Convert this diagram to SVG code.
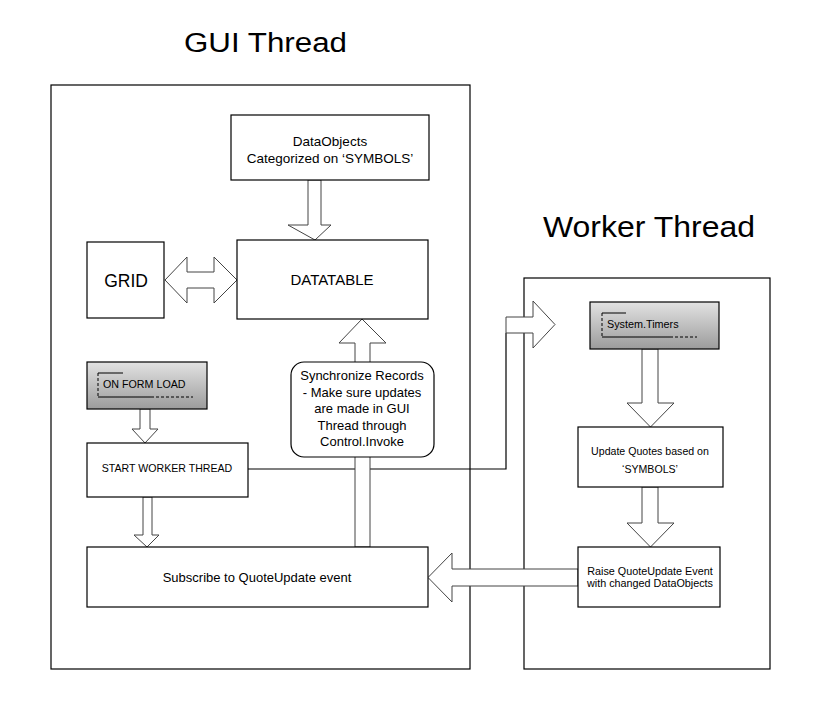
<svg xmlns="http://www.w3.org/2000/svg" width="819" height="724" viewBox="0 0 819 724">
<style>
text{font-family:"Liberation Sans",Arial,sans-serif;fill:#000}
.frame{fill:none;stroke:#000;stroke-width:1.2}
.box{fill:#fff;stroke:#000;stroke-width:1.2}
.gbox{fill:url(#g);stroke:#000;stroke-width:1.2}
.arr{fill:#fff;stroke:#444;stroke-width:1}
.ln{fill:none;stroke:#000;stroke-width:1.2}
.deco{fill:none;stroke:#000;stroke-width:1}
.dash{fill:none;stroke:#000;stroke-width:1;stroke-dasharray:3,2}
.t{text-anchor:middle}
</style>
<defs>
<linearGradient id="g" x1="0" y1="0" x2="0" y2="1">
<stop offset="0" stop-color="#e2e2e2"/>
<stop offset="1" stop-color="#9c9c9c"/>
</linearGradient>
</defs>
<rect width="819" height="724" fill="#fff"/>
<g id="titles">
<text x="184" y="52" font-size="27" textLength="163" lengthAdjust="spacingAndGlyphs">GUI Thread</text>
<text x="543" y="237" font-size="29" textLength="212" lengthAdjust="spacingAndGlyphs">Worker Thread</text>
</g>
<g id="gui-frame"><rect class="frame" x="51" y="85" width="419" height="584"/></g>
<g id="worker-frame"><rect class="frame" x="524" y="278" width="246" height="391"/></g>
<g id="connectors">
<polyline class="ln" points="248,469 506,469 506,333"/>
<polygon class="arr" points="315,240 288,225 308,225 308,180 321,180 321,225 331,225"/>
<polygon class="arr" points="165,280 187,257 187,272 214,272 214,257 237,280 214,303 214,288 187,288 187,303"/>
<polygon class="arr" points="362,319 386,343 370,343 370,547 355,547 355,343 339,343"/>
<polygon class="arr" points="555,324.5 533,301 533,317 506,317 506,333 533,333 533,348"/>
<polygon class="arr" points="145,443 132,429 140,429 140,409 150,409 150,429 158,429"/>
<polygon class="arr" points="147,547 134,535 143,535 143,497 152,497 152,535 159,535"/>
<polygon class="arr" points="650.5,427 627,403 642,403 642,349 658,349 658,403 674,403"/>
<polygon class="arr" points="650.5,547 627,523 642,523 642,487 658,487 658,523 674,523"/>
<polygon class="arr" points="428,577.5 452,553 452,569 578,569 578,586 452,586 452,602"/>
</g>
<g id="dataobjects">
<rect class="box" x="231" y="115" width="198" height="65"/>
<text class="t" x="330" y="146" font-size="13.5">DataObjects</text>
<text class="t" x="330" y="163" font-size="13.5">Categorized on ‘SYMBOLS’</text>
</g>
<g id="grid">
<rect class="box" x="87" y="242" width="77" height="76"/>
<text class="t" x="126" y="287" font-size="17.5">GRID</text>
</g>
<g id="datatable">
<rect class="box" x="237" y="240" width="191" height="79"/>
<text class="t" x="332" y="285" font-size="15">DATATABLE</text>
</g>
<g id="sync">
<rect class="box" x="291" y="362" width="143" height="95" rx="13" ry="13"/>
<text class="t" x="362" y="380" font-size="13">Synchronize Records</text>
<text class="t" x="362" y="397" font-size="13">- Make sure updates</text>
<text class="t" x="362" y="413" font-size="13">are made in GUI</text>
<text class="t" x="362" y="430" font-size="13">Thread through</text>
<text class="t" x="362" y="446" font-size="13">Control.Invoke</text>
</g>
<g id="onformload">
<rect class="gbox" x="87" y="362" width="120" height="47"/>
<path class="deco" d="M98,373 H123 M98,397 H151"/>
<path class="dash" d="M98,373 V397 M151,397 H193"/>
<text x="103" y="388" font-size="10.7">ON FORM LOAD</text>
</g>
<g id="startworker">
<rect class="box" x="87" y="443" width="161" height="54"/>
<text class="t" x="167" y="472" font-size="10.6">START WORKER THREAD</text>
</g>
<g id="subscribe">
<rect class="box" x="87" y="547" width="341" height="60"/>
<text class="t" x="257" y="582" font-size="13">Subscribe to QuoteUpdate event</text>
</g>
<g id="timers">
<rect class="gbox" x="590" y="302" width="129" height="47"/>
<path class="deco" d="M602,313 H626 M602,337 H670"/>
<path class="dash" d="M602,313 V337 M670,337 H697"/>
<text x="607" y="328" font-size="10.8">System.Timers</text>
</g>
<g id="updatequotes">
<rect class="box" x="578" y="427" width="145" height="60"/>
<text class="t" x="650" y="455" font-size="10.6">Update Quotes based on</text>
<text class="t" x="650" y="473" font-size="10.6">‘SYMBOLS’</text>
</g>
<g id="raise">
<rect class="box" x="578" y="547" width="142" height="60"/>
<text class="t" x="650" y="575" font-size="10.8">Raise QuoteUpdate Event</text>
<text class="t" x="650" y="587" font-size="10.8">with changed DataObjects</text>
</g>
</svg>
